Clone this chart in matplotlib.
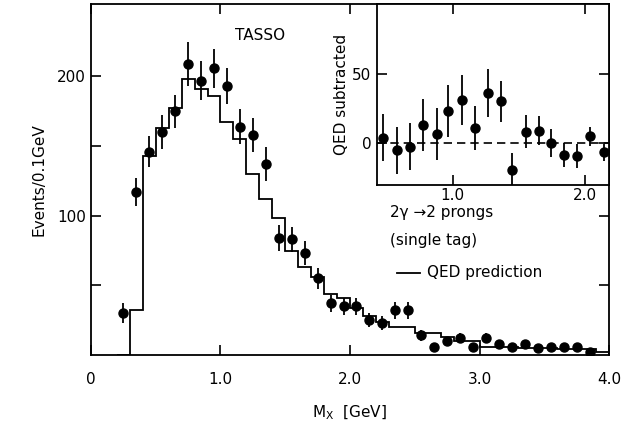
import matplotlib
matplotlib.use("Agg")
import matplotlib.pyplot as plt

plt.rcParams['font.family'] = ['DejaVu Sans']
plt.rcParams['mathtext.default'] = 'regular'

# main data points (bin centres, events / 0.1 GeV, error)
mx = [0.25, 0.35, 0.45, 0.55, 0.65, 0.75, 0.85, 0.95, 1.05, 1.15, 1.25, 1.35,
      1.45, 1.55, 1.65, 1.75, 1.85, 1.95, 2.05, 2.15, 2.25, 2.35, 2.45, 2.55,
      2.65, 2.75, 2.85, 2.95, 3.05, 3.15, 3.25, 3.35, 3.45, 3.55, 3.65, 3.75, 3.85]
events = [30, 117, 146, 160, 175, 209, 197, 206, 193, 164, 158, 137,
          84, 83, 73, 55, 37, 35, 35, 25, 23, 32, 32, 14,
          6, 10, 12, 6, 12, 8, 6, 8, 5, 6, 6, 6, 2]
err = [7, 10, 11, 12, 12, 16, 14, 14, 13, 12.5, 12.5, 12,
       9, 9, 8.5, 7.5, 6, 6, 6, 5, 5, 6, 6, 4,
       2.5, 3, 3.5, 2.5, 3.5, 3, 2.5, 3, 2, 2.5, 2.5, 2.5, 2]

# QED prediction histogram (bin edges and contents)
qed_edges = [0.2, 0.3, 0.4, 0.5, 0.6, 0.7, 0.8, 0.9, 1.0, 1.1, 1.2, 1.3, 1.4,
             1.5, 1.6, 1.7, 1.8, 1.9, 2.0, 2.1, 2.2, 2.3, 2.4, 2.5, 2.6, 2.7,
             2.8, 2.9, 3.0, 3.1, 3.2, 3.3, 3.4, 3.5, 3.6, 3.7, 3.8, 3.9, 4.0]
qed = [0, 32, 143, 163, 177, 198, 191, 186, 167, 155, 130, 112,
       98, 75, 63, 56, 44, 41, 34, 28, 24, 20, 20, 16, 16, 13,
       10, 10, 6, 6, 6, 5, 5, 5, 4, 4, 4, 2.5]

# inset: QED subtracted
ix = [0.475, 0.577, 0.677, 0.775, 0.879, 0.967, 1.07, 1.17, 1.27, 1.365,
      1.45, 1.55, 1.65, 1.74, 1.84, 1.94, 2.04, 2.14]
iy = [4, -5, -2.4, 13, 6.5, 23, 31, 11, 36, 30,
      -19, 8.4, 9, 0, -8.4, -9, 5, -6.5]
ierr = [17, 17, 17, 18.5, 18.5, 18.5, 18, 16, 17.5, 15,
        12, 12, 10.5, 10, 8.5, 8.5, 7, 6]

fig = plt.figure(figsize=(6.34, 4.29), dpi=100)
ax = fig.add_axes([0.1435, 0.1725, 0.8171, 0.8182])

ax.stairs(qed, qed_edges, color='k', lw=1.3)
ax.errorbar(mx, events, yerr=err, fmt='o', color='k', ms=6.5,
            elinewidth=1.3, capsize=0)

ax.set_xlim(0, 4.0)
ax.set_ylim(0, 252)
ax.set_xticks([0, 1, 2, 3, 4])
ax.set_xticklabels(['0', '1.0', '2.0', '3.0', '4.0'])
ax.set_yticks([50, 100, 150, 200])
ax.set_yticklabels(['', '100', '', '200'])
ax.tick_params(direction='in', length=7, width=1.2, top=True, right=True,
               labelsize=11)
ax.tick_params(axis='x', pad=12)
for s in ax.spines.values():
    s.set_linewidth(1.3)

ax.set_xlabel('M$_X$  [GeV]', fontsize=11, labelpad=12)
ax.set_ylabel('Events/0.1GeV', fontsize=11, labelpad=8)

# texts placed in figure coordinates
fig.text(260 / 634, 1 - 35 / 429, 'TASSO', fontsize=11, ha='center', va='center')
fig.text(390 / 634, 1 - 213 / 429, '2γ →2 prongs', fontsize=11, va='center')
fig.text(390 / 634, 1 - 240 / 429, '(single tag)', fontsize=11, va='center')
fig.add_artist(plt.Line2D([397 / 634, 420 / 634], [1 - 273 / 429, 1 - 273 / 429],
                          color='k', lw=1.3))
fig.text(427 / 634, 1 - 273 / 429, 'QED prediction', fontsize=11, va='center')

# inset
ins = fig.add_axes([0.5946, 0.5688, 0.366, 0.4219])
ins.errorbar(ix, iy, yerr=ierr, fmt='o', color='k', ms=6.5,
             elinewidth=1.3, capsize=0)
ins.axhline(0, color='k', lw=1.2, ls=(0, (5, 3)))
ins.set_xlim(0.428, 2.18)
ins.set_ylim(-30, 100)
ins.set_xticks([1, 2])
ins.set_xticklabels(['1.0', '2.0'])
ins.set_yticks([0, 50])
ins.tick_params(direction='in', length=7, width=1.2, top=True, right=True,
                labelsize=11, pad=2)
ins.tick_params(axis='y', pad=4)
for s in ins.spines.values():
    s.set_linewidth(1.3)
ins.set_ylabel('QED subtracted', fontsize=11, labelpad=2)

fig.savefig('out.png', dpi=100)
